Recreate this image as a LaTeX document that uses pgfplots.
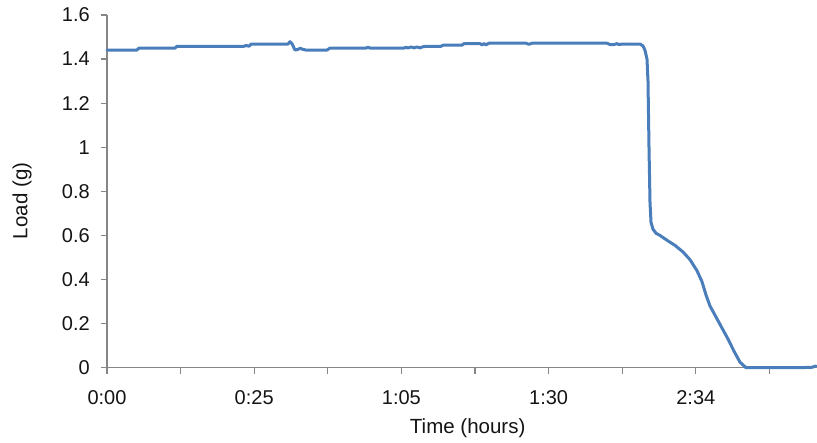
\documentclass[border=0pt]{standalone}
\usepackage{pgfplots}
\pgfplotsset{compat=1.18}
\usepackage{fontspec}
\setmainfont{Liberation Sans}
\definecolor{lineblue}{RGB}{74,126,187}
\definecolor{axisgray}{RGB}{134,134,134}
\definecolor{txt}{RGB}{20,20,20}
\begin{document}
\begin{tikzpicture}
\begin{axis}[
  at={(0,0)}, anchor=south west,
  scale only axis,
  width=710pt, height=352.7pt,
  xmin=0, xmax=710, ymin=0, ymax=1.6,
  axis x line=bottom, axis y line=left,
  axis line style={-, draw=axisgray, line width=1.2pt},
  tick align=outside, tick style={draw=axisgray, line width=1.2pt},
  major tick length=6pt,
  xtick={0,73.6,147.2,220.8,294.4,368,441.6,515.2,588.8,662.4},
  xticklabels={0:00,,0:25,,1:05,,1:30,,2:34,},
  ytick={0,0.2,0.4,0.6,0.8,1,1.2,1.4,1.6},
  yticklabels={0,0.2,0.4,0.6,0.8,1,1.2,1.4,1.6},
  /pgf/number format/assume math mode=true,
  tick label style={font=\fontsize{20}{23}\selectfont, text=txt},
  xticklabel style={anchor=base, inner sep=0pt, yshift=-31pt},
  yticklabel style={anchor=east, inner sep=0pt, xshift=-11pt},
  label style={font=\fontsize{20.5}{23}\selectfont, text=txt},
  xlabel={Time (hours)},
  ylabel={Load (g)},
  xlabel style={at={(axis description cs:0.508,-0.186)}, anchor=base, inner sep=0pt},
  ylabel style={at={(axis description cs:-0.1197,0.473)}, anchor=center, inner sep=0pt},
  clip=false,
]
\addplot[lineblue, line width=3pt, line join=round, line cap=round] coordinates {
(0,1.441) (30,1.441) (32,1.450) (68,1.450) (70,1.458) (137,1.458) (139,1.462)
(142,1.458) (144,1.468) (181,1.468) (183,1.479) (185,1.470) (188,1.441)
(191,1.444) (193,1.449) (196,1.444) (199,1.441) (220,1.441) (223,1.450)
(259,1.450) (261,1.454) (263,1.450) (297,1.450) (299,1.454) (301,1.450)
(304,1.455) (307,1.451) (310,1.455) (313,1.451) (316,1.456) (319,1.458)
(334,1.458) (336,1.463) (355,1.463) (357,1.470) (373,1.470) (375,1.465)
(377,1.470) (379,1.465) (382,1.472) (419,1.472) (422,1.467) (425,1.472)
(500,1.472) (503,1.466) (507,1.466) (510,1.470) (512,1.466) (515,1.468)
(533,1.468) (536,1.460) (538,1.440) (540,1.400) (541,1.300) (542,1.000)
(543,0.750) (544,0.660) (546,0.628) (549,0.610) (553,0.600) (560,0.578)
(568,0.555) (576,0.525) (583,0.490) (590,0.440) (595,0.390) (599,0.330)
(603,0.280) (609,0.230) (615,0.180) (621,0.130) (627,0.075) (633,0.025) (639,0.000)
(693,0.000) (705,0.002) (709,0.008)
};
\end{axis}
\pgfresetboundingbox
\useasboundingbox (-107pt,-74.3pt) rectangle (710pt,367.7pt);
\end{tikzpicture}
\end{document}
